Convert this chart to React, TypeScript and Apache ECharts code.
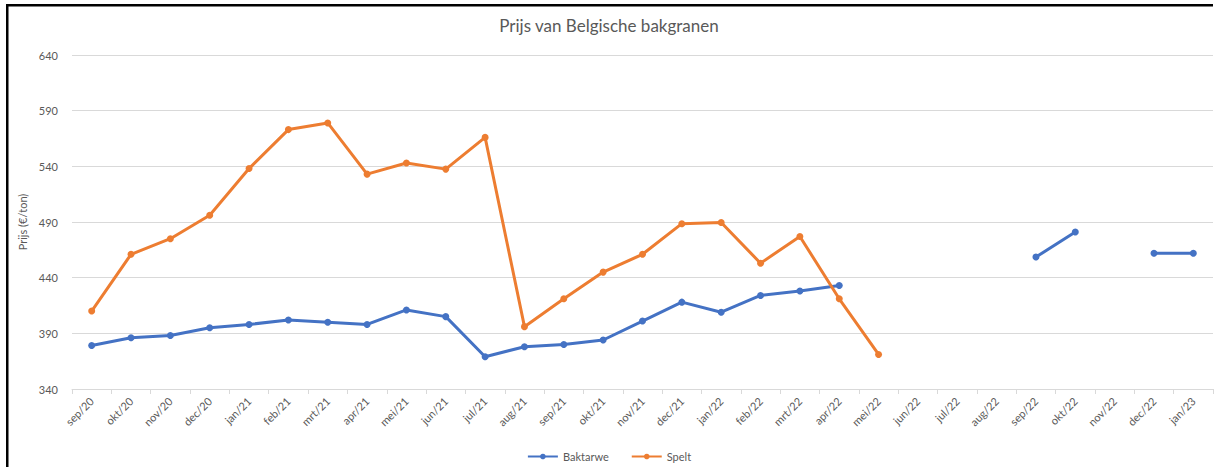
import React, { useEffect, useRef } from "react";
import * as echarts from "echarts";

const categories = [
  "sep/20", "okt/20", "nov/20", "dec/20", "jan/21", "feb/21", "mrt/21", "apr/21", "mei/21", "jun/21",
  "jul/21", "aug/21", "sep/21", "okt/21", "nov/21", "dec/21", "jan/22", "feb/22", "mrt/22", "apr/22",
  "mei/22", "jun/22", "jul/22", "aug/22", "sep/22", "okt/22", "nov/22", "dec/22", "jan/23",
];

const baktarwe: (number | null)[] = [
  379, 386, 388, 395, 398, 402, 400, 398, 411, 405,
  369, 378, 380, 384, 401, 418, 409, 424, 428, 433,
  null, null, null, null, 458.5, 481, null, 462, 462,
];

const spelt: (number | null)[] = [
  410, 461, 475, 496, 538, 573, 579, 533, 543, 537.5,
  566, 396, 421, 445, 461, 488.5, 489.5, 453, 477, 421,
  371, null, null, null, null, null, null, null, null,
];

const yTicks = { min: 340, max: 640, interval: 50 };

const FONT = "Lato, 'Open Sans', 'Liberation Sans', sans-serif";
const GREY = "#595959";

export default function App() {
  const ref = useRef<HTMLDivElement>(null);
  useEffect(() => {
    if (!ref.current) return;
    const chart = echarts.init(ref.current, undefined, { renderer: "svg" });
    chart.setOption({
      animation: false,
      backgroundColor: "#ffffff",
      textStyle: { fontFamily: FONT },
      title: {
        text: "Prijs van Belgische bakgranen",
        left: "center",
        top: 12,
        textStyle: { fontFamily: FONT, fontSize: 17, fontWeight: "normal", color: GREY },
      },
      legend: {
        bottom: 0,
        left: "center",
        itemWidth: 30,
        itemHeight: 7,
        itemGap: 22,
        textStyle: { fontFamily: FONT, fontSize: 11, color: GREY },
        data: ["Baktarwe", "Spelt"],
      },
      graphic: [
        { type: "rect", shape: { x: 6, y: 4, width: 1207, height: 2.5 }, style: { fill: "#000" } },
        { type: "rect", shape: { x: 6, y: 4, width: 2.5, height: 463 }, style: { fill: "#000" } },
      ],
      grid: { left: 72, right: 5, top: 55, bottom: 78 },
      xAxis: {
        type: "category",
        data: categories,
        boundaryGap: true,
        axisLine: { lineStyle: { color: "#d9d9d9" } },
        axisTick: { show: true, length: 5, lineStyle: { color: "#d9d9d9" } },
        axisLabel: { rotate: 45, color: GREY, fontSize: 11, fontFamily: FONT, margin: 10, interval: 0 },
      },
      yAxis: {
        type: "value",
        min: yTicks.min,
        max: yTicks.max,
        interval: yTicks.interval,
        name: "Prijs (€/ton)",
        nameLocation: "middle",
        nameGap: 38,
        nameTextStyle: { color: GREY, fontSize: 11, fontFamily: FONT },
        axisLine: { show: false },
        axisTick: { show: false },
        axisLabel: { color: GREY, fontSize: 11, fontFamily: FONT, margin: 14 },
        splitLine: { lineStyle: { color: "#d9d9d9" } },
      },
      series: [
        {
          name: "Baktarwe",
          type: "line",
          data: baktarwe,
          connectNulls: false,
          symbol: "circle",
          symbolSize: 7,
          lineStyle: { width: 3, color: "#4472C4" },
          itemStyle: { color: "#4472C4" },
        },
        {
          name: "Spelt",
          type: "line",
          data: spelt,
          connectNulls: false,
          symbol: "circle",
          symbolSize: 7,
          lineStyle: { width: 3, color: "#ED7D31" },
          itemStyle: { color: "#ED7D31" },
        },
      ],
    });
    return () => chart.dispose();
  }, []);
  return (
    <div
      ref={ref}
      style={{ position: "fixed", left: 0, top: 0, width: 1218, height: 467 }}
    />
  );
}
